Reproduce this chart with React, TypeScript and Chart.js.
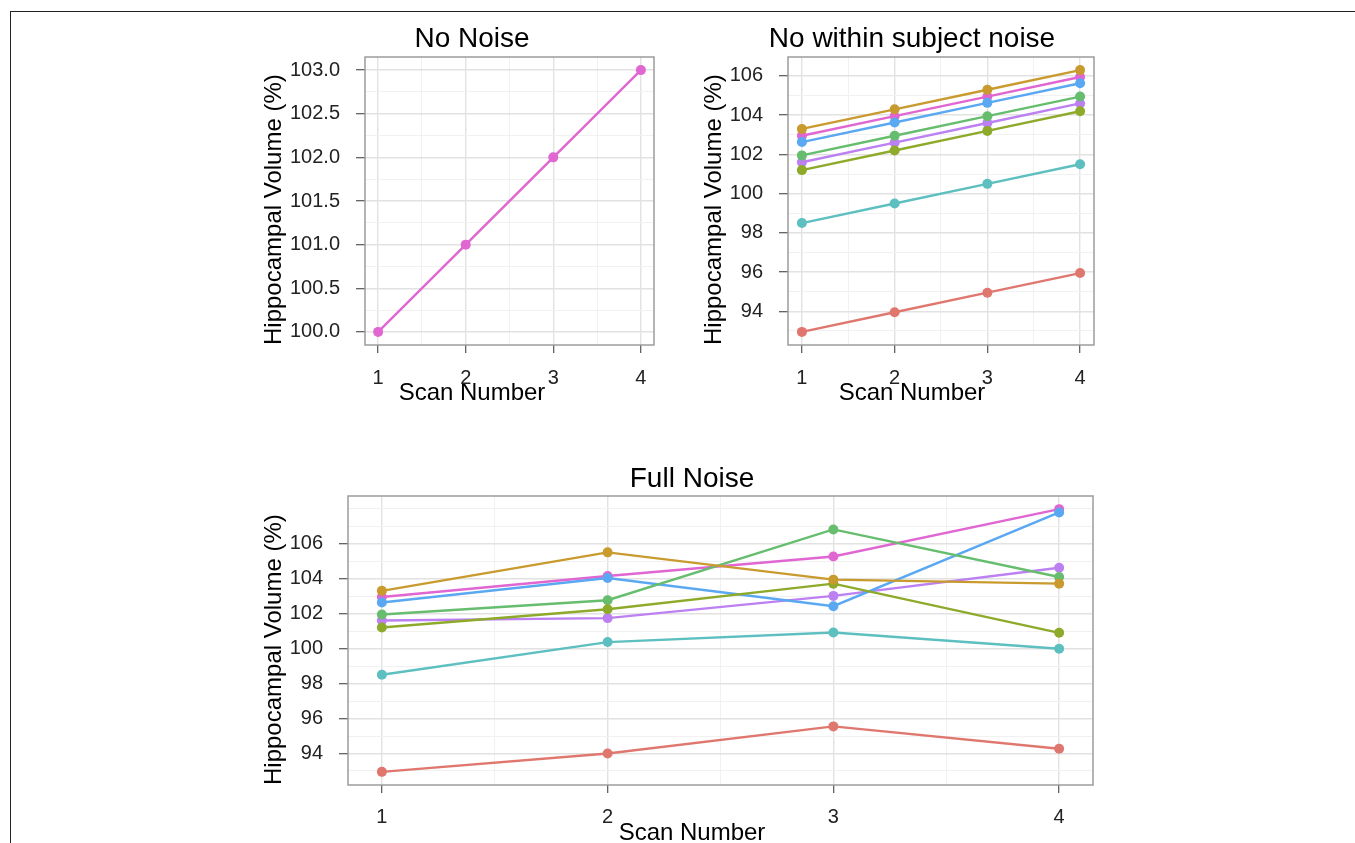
import React, { useEffect, useRef } from 'react';
import { Chart, registerables } from 'chart.js';

Chart.register(...registerables);

const FONT = "'Liberation Sans', Arial, Helvetica, sans-serif";
Chart.defaults.font.family = FONT;

// ---------- data ----------
const scanNumbers = [1, 2, 3, 4];
const scanTickLabels = ['1', '2', '3', '4'];

const noNoiseValues = [100, 101, 102, 103];
const noNoiseYTicks = [100, 100.5, 101, 101.5, 102, 102.5, 103];

const noWithinRed = [92.95, 93.95, 94.95, 95.95];
const noWithinGold = [103.3, 104.3, 105.3, 106.3];
const noWithinOlive = [101.2, 102.2, 103.2, 104.2];
const noWithinGreen = [101.95, 102.95, 103.95, 104.95];
const noWithinTeal = [98.5, 99.5, 100.5, 101.5];
const noWithinBlue = [102.63, 103.63, 104.63, 105.63];
const noWithinPurple = [101.6, 102.6, 103.6, 104.6];
const noWithinPink = [102.95, 103.95, 104.95, 105.95];
const noWithinYTicks = [94, 96, 98, 100, 102, 104, 106];

const fullRed = [92.95, 94.0, 95.55, 94.27];
const fullGold = [103.3, 105.5, 103.94, 103.71];
const fullOlive = [101.2, 102.25, 103.71, 100.9];
const fullGreen = [101.95, 102.76, 106.81, 104.09];
const fullTeal = [98.5, 100.37, 100.92, 99.99];
const fullBlue = [102.63, 104.03, 102.42, 107.78];
const fullPurple = [101.6, 101.74, 103.01, 104.62];
const fullPink = [102.95, 104.15, 105.26, 107.97];
const fullYTicks = [94, 96, 98, 100, 102, 104, 106];

const subjectColors = ['#E0776F', '#C99A2E', '#8EAA2A', '#66BD6E', '#5DBFBF', '#5AA8F2', '#BC80F2', '#E066D2'];
const noNoiseColors = ['#E066D2'];

const MAJOR_GRID = '#E2E2E2';
const MINOR_GRID = '#F1F1F1';
const TICK_COLOR = '#555555';

// ---------- helpers ----------
function expandRange(values: number[], frac = 0.05): [number, number] {
  const lo = Math.min(...values);
  const hi = Math.max(...values);
  const d = (hi - lo) * frac;
  return [lo - d, hi + d];
}

function gridValues(majors: number[], min: number, max: number): number[] {
  const step = majors[1] - majors[0];
  const ext = [majors[0] - step, ...majors, majors[majors.length - 1] + step];
  const vals: number[] = [];
  for (let i = 0; i < ext.length; i++) {
    vals.push(ext[i]);
    if (i < ext.length - 1) vals.push((ext[i] + ext[i + 1]) / 2);
  }
  return vals.filter((v) => v >= min - 1e-9 && v <= max + 1e-9);
}

const near = (list: number[], v: number) => list.findIndex((t) => Math.abs(t - v) < 1e-6);

const panelBorder = {
  id: 'panelBorder',
  afterDatasetsDraw(chart: any) {
    const { ctx, chartArea } = chart;
    ctx.save();
    ctx.strokeStyle = '#9C9C9C';
    ctx.lineWidth = 1.5;
    ctx.strokeRect(chartArea.left, chartArea.top, chartArea.right - chartArea.left, chartArea.bottom - chartArea.top);
    ctx.restore();
  },
};

type PanelProps = {
  left: number;
  top: number;
  width: number;
  height: number;
  title: string;
  series: number[][];
  colors: string[];
  yTicks: number[];
  yDecimals: number;
  yAxisWidth: number;
  rightPad: number;
  titlePad: { top: number; bottom: number };
  xTickPad: number;
};

function Panel(p: PanelProps) {
  const ref = useRef<HTMLCanvasElement>(null);
  useEffect(() => {
    const [yMin, yMax] = expandRange(p.series.flat());
    const [xMin, xMax] = expandRange(scanNumbers);
    const yGrid = gridValues(p.yTicks, yMin, yMax);
    const xGrid = gridValues(scanNumbers, xMin, xMax);
    const tickFont = { family: FONT, size: 20 };

    const chart = new Chart(ref.current as HTMLCanvasElement, {
      type: 'line',
      data: {
        datasets: p.series.map((vals, i) => ({
          data: vals.map((y, j) => ({ x: scanNumbers[j], y })),
          borderColor: p.colors[i],
          backgroundColor: p.colors[i],
          pointBackgroundColor: p.colors[i],
          borderWidth: 2.4,
          pointRadius: 5,
          pointHoverRadius: 5,
          pointBorderWidth: 0,
          tension: 0,
          fill: false,
        })),
      },
      options: {
        animation: false,
        responsive: false,
        maintainAspectRatio: false,
        layout: { padding: 0 },
        plugins: {
          legend: { display: false },
          tooltip: { enabled: false },
          title: {
            display: true,
            text: p.title,
            color: '#000',
            font: { family: FONT, size: 28, weight: 'normal', lineHeight: 1 },
            padding: p.titlePad,
          },
          subtitle: {
            display: true,
            text: 'Scan Number',
            position: 'bottom',
            color: '#000',
            font: { family: FONT, size: 24, weight: 'normal', lineHeight: 1 },
            padding: { top: -10, bottom: 0 },
          },
        },
        scales: {
          x: {
            type: 'linear',
            min: xMin,
            max: xMax,
            afterBuildTicks: (axis: any) => {
              axis.ticks = xGrid.map((v) => ({ value: v }));
            },
            afterFit: (s: any) => {
              s.height = 46;
            },
            border: { display: false },
            grid: {
              color: (ctx: any) => (near(scanNumbers, ctx.tick?.value) >= 0 ? MAJOR_GRID : MINOR_GRID),
              lineWidth: (ctx: any) => (near(scanNumbers, ctx.tick?.value) >= 0 ? 1.4 : 1),
              tickColor: (ctx: any) => (near(scanNumbers, ctx.tick?.value) >= 0 ? TICK_COLOR : 'rgba(0,0,0,0)'),
              tickLength: 8,
              tickWidth: 1.2,
              drawTicks: true,
            },
            ticks: {
              autoSkip: false,
              maxRotation: 0,
              padding: p.xTickPad,
              color: '#222',
              font: tickFont,
              callback: (v: any) => {
                const i = near(scanNumbers, Number(v));
                return i >= 0 ? scanTickLabels[i] : '';
              },
            },
          },
          y: {
            type: 'linear',
            min: yMin,
            max: yMax,
            afterBuildTicks: (axis: any) => {
              axis.ticks = yGrid.map((v) => ({ value: v }));
            },
            afterFit: (s: any) => {
              s.width = p.yAxisWidth;
            },
            border: { display: false },
            grid: {
              color: (ctx: any) => (near(p.yTicks, ctx.tick?.value) >= 0 ? MAJOR_GRID : MINOR_GRID),
              lineWidth: (ctx: any) => (near(p.yTicks, ctx.tick?.value) >= 0 ? 1.4 : 1),
              tickColor: (ctx: any) => (near(p.yTicks, ctx.tick?.value) >= 0 ? TICK_COLOR : 'rgba(0,0,0,0)'),
              tickLength: 9,
              tickWidth: 1.2,
              drawTicks: true,
            },
            ticks: {
              autoSkip: false,
              padding: 16,
              color: '#222',
              font: tickFont,
              callback: (v: any) => {
                const i = near(p.yTicks, Number(v));
                return i >= 0 ? p.yTicks[i].toFixed(p.yDecimals) : '';
              },
            },
            title: {
              display: true,
              text: 'Hippocampal Volume (%)',
              align: 'start',
              color: '#000',
              font: { family: FONT, size: 24, weight: 'normal', lineHeight: 1 },
              padding: { top: 4, bottom: 0 },
            },
          },
          yPad: {
            type: 'linear',
            position: 'right',
            display: true,
            grid: { display: false, drawTicks: false },
            border: { display: false },
            ticks: { display: false },
            afterFit: (s: any) => {
              s.width = p.rightPad;
            },
          },
        },
      } as any,
      plugins: [panelBorder],
    });
    return () => chart.destroy();
  }, []);
  return (
    <canvas
      ref={ref}
      width={p.width}
      height={p.height}
      style={{ position: 'absolute', left: p.left, top: p.top, width: p.width, height: p.height }}
    />
  );
}

export default function App() {
  return (
    <div
      style={{
        position: 'absolute',
        left: 0,
        top: 0,
        width: 1355,
        height: 843,
        overflow: 'hidden',
        background: '#fff',
      }}
    >
      <div
        style={{
          position: 'absolute',
          left: 10,
          top: 11,
          width: 1345,
          height: 832,
          boxSizing: 'border-box',
          borderTop: '1px solid #222',
          borderLeft: '1px solid #222',
        }}
      />
      <Panel
        left={258}
        top={20}
        width={428}
        height={385}
        title="No Noise"
        series={[noNoiseValues]}
        colors={noNoiseColors}
        yTicks={noNoiseYTicks}
        yDecimals={1}
        yAxisWidth={107}
        rightPad={32}
        titlePad={{ top: 5, bottom: 4 }}
        xTickPad={13}
      />
      <Panel
        left={698}
        top={20}
        width={428}
        height={385}
        title="No within subject noise"
        series={[noWithinRed, noWithinGold, noWithinOlive, noWithinGreen, noWithinTeal, noWithinBlue, noWithinPurple, noWithinPink]}
        colors={subjectColors}
        yTicks={noWithinYTicks}
        yDecimals={0}
        yAxisWidth={90}
        rightPad={32}
        titlePad={{ top: 5, bottom: 4 }}
        xTickPad={13}
      />
      <Panel
        left={258}
        top={460}
        width={868}
        height={385}
        title="Full Noise"
        series={[fullRed, fullGold, fullOlive, fullGreen, fullTeal, fullBlue, fullPurple, fullPink]}
        colors={subjectColors}
        yTicks={fullYTicks}
        yDecimals={0}
        yAxisWidth={90}
        rightPad={33}
        titlePad={{ top: 5, bottom: 3 }}
        xTickPad={12}
      />
    </div>
  );
}
